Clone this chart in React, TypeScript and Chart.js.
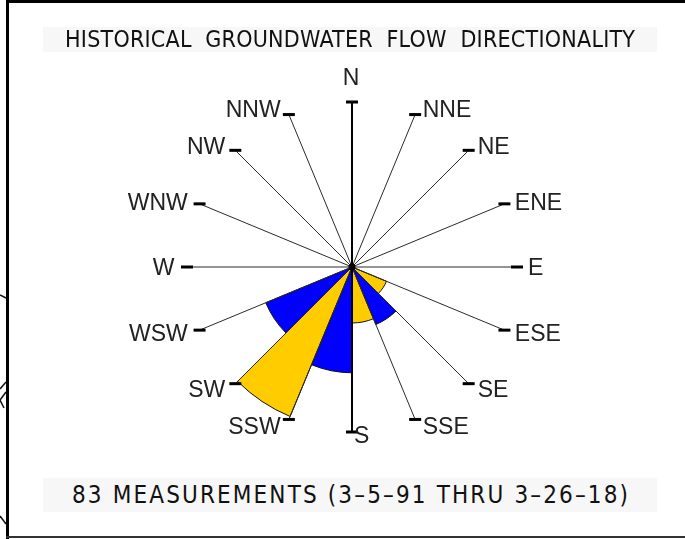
import React, { useEffect, useRef } from "react";
import { Chart, registerables } from "chart.js";

Chart.register(...registerables);

// Compass directions, clockwise from north (each sector spans from its direction to the next one)
const directions = ["N", "NNE", "NE", "ENE", "E", "ESE", "SE", "SSE", "S", "SSW", "SW", "WSW", "W", "WNW", "NW", "NNW"];
// Number of measurements falling in each 22.5° sector
const sectorCounts = [0, 0, 0, 0, 0, 6, 10, 9, 17, 26, 15, 0, 0, 0, 0, 0];
const scaleMax = 27;
const titleText = "HISTORICAL  GROUNDWATER  FLOW  DIRECTIONALITY";
const footerText = "83 MEASUREMENTS (3–5–91 THRU 3–26–18)";

const YELLOW = "#FFCC00";
const BLUE = "#0000FF";
const LABEL_FONT_SIZE = 23;
const CAD_FONT = '"DejaVu Sans Condensed", "Liberation Sans Narrow", "Liberation Sans", sans-serif';

const roseOverlay = {
  id: "roseOverlay",
  beforeDraw(chart: any) {
    const ctx = chart.ctx as CanvasRenderingContext2D;
    ctx.save();
    ctx.fillStyle = "#fff";
    ctx.fillRect(0, 0, chart.width, chart.height);
    // frame
    ctx.fillStyle = "#000";
    ctx.fillRect(6, 0, chart.width - 6, 3);
    ctx.fillRect(6, 0, 3, chart.height);
    ctx.fillStyle = "#333";
    ctx.fillRect(6, 536, chart.width - 6, 2);
    // fragments of the drawing behind the frame
    ctx.strokeStyle = "#111";
    ctx.lineWidth = 1.5;
    const frags = [
      [0, 295, 6, 298],
      [0, 389, 6, 382],
      [6, 392, 0, 400],
      [0, 400, 4, 408],
      [0, 516, 6, 524],
    ];
    frags.forEach(([a, b, c, d]) => {
      ctx.beginPath();
      ctx.moveTo(a, b);
      ctx.lineTo(c, d);
      ctx.stroke();
    });
    ctx.restore();
  },
  afterDatasetsDraw(chart: any) {
    const ctx = chart.ctx as CanvasRenderingContext2D;
    const scale = chart.scales.r;
    const cx = scale.xCenter;
    const cy = scale.yCenter;
    const R = scale.drawingArea - 3;
    ctx.save();
    ctx.font = `${LABEL_FONT_SIZE}px "Liberation Sans", Arial, sans-serif`;
    const capHalf = 0.358 * LABEL_FONT_SIZE;
    directions.forEach((name, i) => {
      const a = scale.getIndexAngle(i);
      const s = Math.sin(a);
      const c = Math.cos(a);
      const ex = cx + R * s;
      const ey = cy - R * c;
      ctx.beginPath();
      ctx.moveTo(cx, cy);
      ctx.lineTo(ex, ey);
      if (i % 8 === 0) {
        ctx.lineWidth = 2;
        ctx.strokeStyle = "#000";
      } else {
        ctx.lineWidth = 1;
        ctx.strokeStyle = "#2a2a2a";
      }
      ctx.stroke();
      ctx.fillStyle = "#000";
      ctx.fillRect(ex - 6, ey - 1.5, 12, 3);

      ctx.fillStyle = "#222";
      ctx.textBaseline = "alphabetic";
      if (i === 0) {
        ctx.textAlign = "center";
        ctx.fillText(name, ex - 1, ey - 25 + capHalf);
      } else if (i === 8) {
        ctx.textAlign = "left";
        ctx.fillText(name, ex + 2, ey + 3 + capHalf);
      } else if (s > 0) {
        ctx.textAlign = "left";
        ctx.fillText(name, ex + 6 + 1 + 4 * s * s, ey - 6.5 * c + capHalf);
      } else {
        ctx.textAlign = "right";
        ctx.fillText(name, ex - 6 - 1.5 - 5 * s * s, ey - 6.5 * c + capHalf);
      }
    });
    ctx.beginPath();
    ctx.fillStyle = "#000";
    ctx.arc(cx, cy, 3.5, 0, Math.PI * 2);
    ctx.fill();
    ctx.restore();
  },
};

function fitText(el: HTMLSpanElement | null, target: number) {
  if (!el) return;
  el.style.letterSpacing = "0px";
  el.style.transform = "none";
  const w0 = el.getBoundingClientRect().width;
  const n = (el.textContent || "").length;
  if (w0 < target && n > 1) {
    const ls = (target - w0) / (n - 1);
    el.style.letterSpacing = `${ls}px`;
    el.style.marginRight = `${-ls}px`;
  } else if (w0 > 0) {
    el.style.transform = `scaleX(${target / w0})`;
  }
}

export default function App() {
  const canvasRef = useRef<HTMLCanvasElement | null>(null);
  const titleRef = useRef<HTMLSpanElement | null>(null);
  const footRef = useRef<HTMLSpanElement | null>(null);

  useEffect(() => {
    fitText(titleRef.current, 570);
    fitText(footRef.current, 556);
    const canvas = canvasRef.current;
    if (!canvas) return;
    const chart = new Chart(canvas, {
      type: "polarArea",
      data: {
        labels: directions,
        datasets: [
          {
            data: sectorCounts,
            backgroundColor: (ctx: any) => (ctx.dataIndex % 2 === 1 ? YELLOW : BLUE),
            borderColor: "#111",
            borderWidth: 1,
          },
        ],
      },
      options: {
        responsive: false,
        animation: false,
        layout: { padding: { left: 184, top: 99, right: 165, bottom: 104 } },
        plugins: {
          legend: { display: false },
          tooltip: { enabled: false },
          title: { display: false },
        },
        scales: {
          r: {
            min: 0,
            max: scaleMax,
            startAngle: 0,
            grid: { display: false },
            angleLines: { display: false },
            ticks: { display: false },
            pointLabels: { display: false },
          },
        },
      },
      plugins: [roseOverlay],
    } as any);
    return () => chart.destroy();
  }, []);

  const boxStyle: React.CSSProperties = {
    position: "absolute",
    left: 43,
    width: 614,
    background: "#f7f7f7",
    display: "flex",
    alignItems: "center",
    justifyContent: "center",
    overflow: "visible",
  };
  const textStyle: React.CSSProperties = {
    whiteSpace: "pre",
    fontFamily: CAD_FONT,
    color: "#111",
    display: "inline-block",
    lineHeight: 1,
  };

  return (
    <div style={{ position: "fixed", left: 0, top: 0, width: 685, height: 539, background: "#fff", overflow: "hidden" }}>
      <canvas ref={canvasRef} width={685} height={539} style={{ position: "absolute", left: 0, top: 0 }} />
      <div style={{ ...boxStyle, top: 27, height: 25 }}>
        <span ref={titleRef} style={{ ...textStyle, fontSize: 23 }}>{titleText}</span>
      </div>
      <div style={{ ...boxStyle, top: 478, height: 34 }}>
        <span ref={footRef} style={{ ...textStyle, fontSize: 24 }}>{footerText}</span>
      </div>
    </div>
  );
}
